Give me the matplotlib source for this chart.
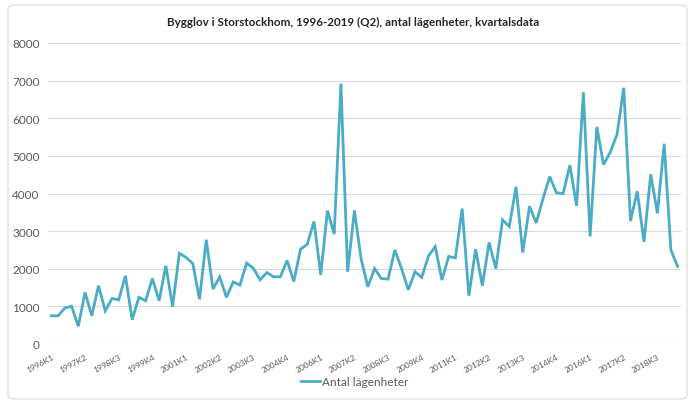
import matplotlib
matplotlib.use("Agg")
import matplotlib.pyplot as plt
from matplotlib.patches import FancyBboxPatch

# kvartal 1996K1 .. 2019K2
years = list(range(1996, 2020))
quarters = [f"{y}K{q}" for y in years for q in range(1, 5)][:94]

lagenheter = [
    750, 750, 955, 1005, 470, 1370, 750, 1550, 880, 1210,
    1175, 1810, 645, 1240, 1150, 1740, 1150, 2080, 990, 2410,
    2300, 2140, 1190, 2770, 1460, 1785, 1240, 1650, 1565, 2150,
    2010, 1705, 1900, 1785, 1785, 2220, 1660, 2520, 2650, 3260,
    1840, 3545, 2920, 6920, 1920, 3550, 2255, 1520, 2005, 1740,
    1725, 2500, 2005, 1440, 1920, 1770, 2340, 2590, 1700, 2325,
    2290, 3600, 1280, 2520, 1550, 2700, 2005, 3300, 3120, 4180,
    2430, 3660, 3220, 3860, 4450, 4020, 4000, 4755, 3670, 6690,
    2860, 5770, 4765, 5100, 5570, 6810, 3270, 4060, 2715, 4510,
    3475, 5320, 2500, 2060,
]

title = "Bygglov i Storstockhom, 1996-2019 (Q2), antal lägenheter, kvartalsdata"
series_name = "Antal lägenheter"

plt.rcParams['font.family'] = ['Lato', 'DejaVu Sans']

fig = plt.figure(figsize=(6.89, 4.02), dpi=100)
ax = fig.add_axes([48/689, 1 - 345/402, 633/689, 301/402])

x = list(range(len(lagenheter)))
ax.plot(x, lagenheter, color="#4bacc6", lw=2.0, label=series_name, solid_joinstyle="miter")

ax.set_xlim(-0.5, len(lagenheter) - 0.5)
ax.set_ylim(0, 8000)
ax.set_yticks(range(0, 8001, 1000))
ax.tick_params(axis="y", length=0, labelsize=8.5, labelcolor="#595959", pad=6)
ax.grid(axis="y", color="#d9d9d9", lw=0.8)
ax.set_axisbelow(True)
for s in ax.spines.values():
    s.set_visible(False)

ax.set_xticks(x[::5])
ax.set_xticklabels(quarters[::5], rotation=28, ha="right", rotation_mode="anchor",
                   fontsize=6, color="#595959")
ax.tick_params(axis="x", length=0, pad=6)

fig.text(353/689, 1 - 22/402, title, ha="center", va="center", fontsize=8.4,
         fontweight="bold", color="#262626")

ax.legend(loc="center", bbox_to_anchor=(355/689, 1 - 383/402), bbox_transform=fig.transFigure,
          frameon=False, fontsize=8.5, labelcolor="#595959", handlelength=1.6, handletextpad=0.2)

border = FancyBboxPatch((8/689, 0.005), 1 - 10/689, 1 - 6/402 - 0.005,
                        boxstyle="round,pad=0,rounding_size=0.01", transform=fig.transFigure,
                        facecolor="none", edgecolor="#d9d9d9", lw=0.8)
fig.patches.append(border)

fig.savefig("out.png", dpi=100)
